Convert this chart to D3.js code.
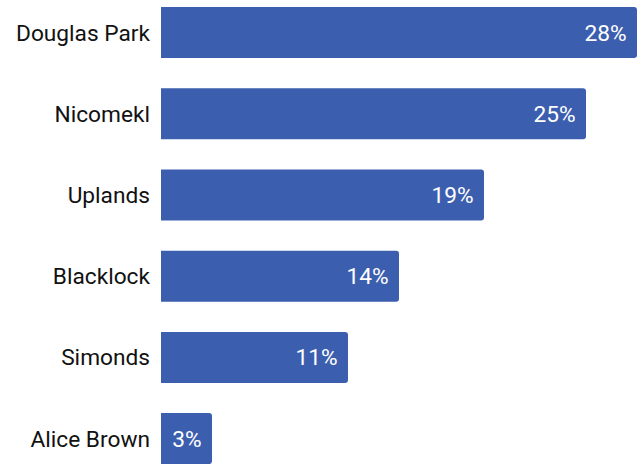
<!DOCTYPE html>
<html><head><meta charset="utf-8">
<script src="https://cdn.jsdelivr.net/npm/d3@7"></script>
<style>body{margin:0;background:#fff;}svg{display:block;}</style>
</head><body>
<svg id="c" width="639" height="464"></svg>
<script>
const categories = ["Douglas Park","Nicomekl","Uplands","Blacklock","Simonds","Alice Brown"];
const values = [28,25,19,14,11,3];
const valueLabels = ["28%","25%","19%","14%","11%","3%"];

const svg = d3.select("#c");
const x = d3.scaleLinear().domain([0,28]).range([161,637]);
const y = d3.scaleBand().domain(categories).range([-8,479.2]).paddingInner(0.372).paddingOuter(0.186);
const color = "#3c5eae";
const r = 3;

const g = svg.selectAll("g.bar").data(categories).enter().append("g").attr("class","bar");
g.append("path")
  .attr("fill", color)
  .attr("d", (d,i) => {
    const x0 = x(0), x1 = x(values[i]), y0 = y(d), h = y.bandwidth();
    return `M${x0},${y0}H${x1-r}Q${x1},${y0} ${x1},${y0+r}V${y0+h-r}Q${x1},${y0+h} ${x1-r},${y0+h}H${x0}Z`;
  });
g.append("text")
  .attr("x", 150)
  .attr("y", d => y(d) + y.bandwidth()/2)
  .attr("dy","0.35em")
  .attr("text-anchor","end")
  .attr("font-family","Roboto")
  .attr("font-size",22.7)
  .attr("fill","#111")
  .text(d => d);
g.append("text")
  .attr("x", (d,i) => x(values[i]) - 10.5)
  .attr("y", d => y(d) + y.bandwidth()/2)
  .attr("dy","0.35em")
  .attr("text-anchor","end")
  .attr("font-family","Roboto")
  .attr("font-size",22.7)
  .attr("fill","#fff")
  .text((d,i) => valueLabels[i]);
</script>
</body></html>
